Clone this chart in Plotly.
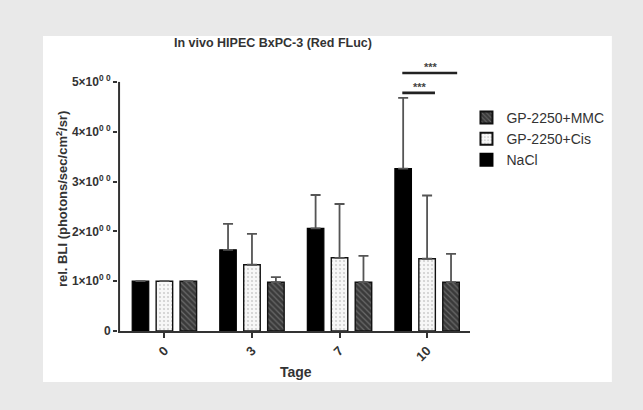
import plotly.graph_objects as go

days = ["0", "3", "7", "10"]
nacl = [1.0, 1.63, 2.06, 3.26]
nacl_err = [0.0, 0.52, 0.67, 1.42]
cis = [1.0, 1.33, 1.47, 1.45]
cis_err = [0.0, 0.62, 1.08, 1.27]
mmc = [1.0, 0.98, 0.98, 0.98]
mmc_err = [0.0, 0.10, 0.53, 0.57]
ytick_vals = [0, 1, 2, 3, 4, 5]
ytick_text = ["0", "1×10<sup>0 0</sup>", "2×10<sup>0 0</sup>", "3×10<sup>0 0</sup>",
              "4×10<sup>0 0</sup>", "5×10<sup>0 0</sup>"]
sig_pairs = [(0, 1, 4.78), (0, 2, 5.18)]  # (bar index a, bar index b, y level) at day 10
sig_label = "***"

FONT = "Liberation Sans, Arial, sans-serif"
BARGAP = 0.18
BARGROUPGAP = 0.31
slot = (1 - BARGAP) / 3

fig = go.Figure()
err_style = dict(type="data", symmetric=False, arrayminus=[0, 0, 0, 0],
                 color="#555555", thickness=1.8, width=5)

fig.add_trace(go.Bar(
    name="NaCl", x=days, y=nacl,
    error_y=dict(array=nacl_err, **err_style),
    marker=dict(color="#000000", line=dict(color="#000000", width=1.2)),
))
fig.add_trace(go.Bar(
    name="GP-2250+Cis", x=days, y=cis,
    error_y=dict(array=cis_err, **err_style),
    marker=dict(color="#f5f5f5", line=dict(color="#111111", width=1.4),
                pattern=dict(shape=".", bgcolor="#f7f7f7", fgcolor="#a5a5a5",
                             size=4, solidity=0.22)),
))
fig.add_trace(go.Bar(
    name="GP-2250+MMC", x=days, y=mmc,
    error_y=dict(array=mmc_err, **err_style),
    marker=dict(color="#3a3a3a", line=dict(color="#111111", width=1.4),
                pattern=dict(shape="\\", bgcolor="#3a3a3a", fgcolor="#9a9a9a",
                             size=4, solidity=0.3)),
))

shapes = []
# white panel
shapes.append(dict(type="rect", xref="paper", yref="paper",
                   x0=-0.213, x1=1.403, y0=-0.193, y1=1.117,
                   fillcolor="#ffffff", line=dict(width=0), layer="below"))
# y axis line (0 to 5 only)
shapes.append(dict(type="line", xref="paper", yref="y", x0=0.003, x1=0.003, y0=0, y1=5,
                   line=dict(color="#333333", width=2)))
annotations = []
for a, b, lvl in sig_pairs:
    xa = 3 + (a - 1) * slot
    xb = 3 + (b - 1) * slot
    shapes.append(dict(type="line", xref="x", yref="y", x0=xa - 0.01,
                       x1=xb + 0.09 if b == 1 else xb + 0.07,
                       y0=lvl, y1=lvl, line=dict(color="#222222", width=2.6)))
    annotations.append(dict(x=(xa + xb) / 2 + 0.05, y=lvl, xref="x", yref="y",
                            text=sig_label, showarrow=False, yanchor="bottom",
                            yshift=-2, font=dict(family=FONT, size=11, color="#444444",
                                                 weight="bold")))

annotations.append(dict(x=-0.159, y=0.5, xref="paper", yref="paper",
                        xanchor="center", yanchor="middle",
                        text="rel. BLI (photons/sec/cm<sup>2</sup>/sr)", textangle=-90,
                        showarrow=False, font=dict(family=FONT, size=13, color="#333333",
                                                   weight="bold")))
annotations.append(dict(x=0.44, y=1.09, xref="paper", yref="paper",
                        text="In vivo HIPEC BxPC-3 (Red FLuc)", showarrow=False,
                        xanchor="center", yanchor="middle",
                        font=dict(family=FONT, size=12.5, color="#333333", weight="bold")))
annotations.append(dict(x=0.505, y=-0.155, xref="paper", yref="paper",
                        text="Tage", showarrow=False, xanchor="center", yanchor="middle",
                        font=dict(family=FONT, size=14, color="#333333", weight="bold")))

fig.update_layout(
    width=643, height=410,
    margin=dict(l=118, r=173, t=67, b=79),
    paper_bgcolor="#e9e9e9", plot_bgcolor="#ffffff",
    barmode="group", bargap=BARGAP, bargroupgap=BARGROUPGAP,
    showlegend=True,
    legend=dict(x=0.99, y=0.868, xanchor="left", yanchor="top", traceorder="reversed",
                font=dict(family=FONT, size=14, color="#333333"),
                bgcolor="rgba(0,0,0,0)", tracegroupgap=0, itemsizing="constant"),
    shapes=shapes, annotations=annotations,
    font=dict(family=FONT),
)
fig.update_xaxes(type="category", range=[-0.53, 3.49], showline=True, linecolor="#333333",
                 linewidth=2, ticks="outside", ticklen=5, tickwidth=1.5, tickcolor="#333333",
                 tickangle=-45, showgrid=False, zeroline=False,
                 tickfont=dict(family=FONT, size=13, color="#333333", weight="bold"))
fig.update_yaxes(range=[0, 5.3], tickvals=ytick_vals, ticktext=ytick_text, showline=False,
                 ticks="outside", ticklen=4, tickwidth=1.5, tickcolor="#333333",
                 showgrid=False, zeroline=False,
                 tickfont=dict(family=FONT, size=12, color="#333333", weight="bold"))

fig.write_html("out.html")
